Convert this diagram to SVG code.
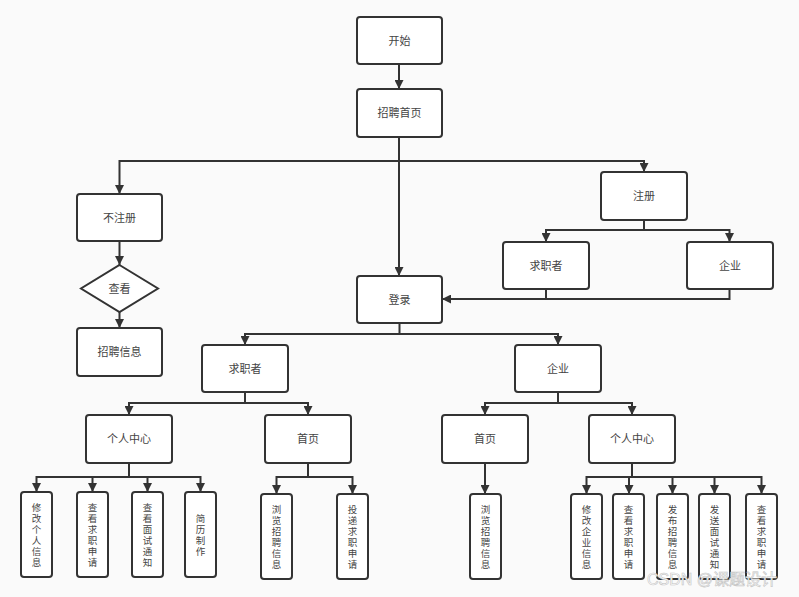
<svg xmlns="http://www.w3.org/2000/svg" width="799" height="597" viewBox="0 0 799 597">
<defs>
<marker id="arr" viewBox="0 0 10 10" refX="10" refY="5" markerWidth="9" markerHeight="9" markerUnits="userSpaceOnUse" orient="auto">
<path d="M0,0 L10,5 L0,10 z" fill="#333"/>
</marker>
<style>
.box{fill:#fff;stroke:#333;stroke-width:2}
.lbl{font-family:"Liberation Sans","Noto Sans CJK SC",sans-serif;font-size:11px;fill:#444;text-anchor:middle;dominant-baseline:central}
.v{font-family:"Liberation Sans","Noto Sans CJK SC",sans-serif;font-size:9.5px;fill:#444;text-anchor:middle;dominant-baseline:central}
.c{fill:none;stroke:#333;stroke-width:2}
.wm{font-family:"Liberation Sans","Noto Sans CJK SC",sans-serif;font-size:16px;fill:#ffffff;stroke:#c4c4c4;stroke-width:0.6}
</style>
</defs>
<rect width="799" height="597" fill="#fafafa"/>
<g id="connectors">
<path class="c" d="M399,64 V89" marker-end="url(#arr)"/>
<path class="c" d="M399,137 V161 H119.5 V194" marker-end="url(#arr)"/>
<path class="c" d="M399,161 V276" marker-end="url(#arr)"/>
<path class="c" d="M399,161 H644 V172" marker-end="url(#arr)"/>
<path class="c" d="M119.5,241 V265" marker-end="url(#arr)"/>
<path class="c" d="M119.5,312 V328" marker-end="url(#arr)"/>
<path class="c" d="M644,220 V230 H546 V242" marker-end="url(#arr)"/>
<path class="c" d="M644,230 H729.5 V242" marker-end="url(#arr)"/>
<path class="c" d="M546,289 V299"/>
<path class="c" d="M729.5,289 V299 H442" marker-end="url(#arr)"/>
<path class="c" d="M399.5,323 V334 H245 V345" marker-end="url(#arr)"/>
<path class="c" d="M399.5,334 H558 V345" marker-end="url(#arr)"/>
<path class="c" d="M245,392 V403 H129 V415" marker-end="url(#arr)"/>
<path class="c" d="M245,403 H308 V415" marker-end="url(#arr)"/>
<path class="c" d="M558,392 V403 H485 V415" marker-end="url(#arr)"/>
<path class="c" d="M558,403 H632 V415" marker-end="url(#arr)"/>
<path class="c" d="M129,463 V477 H36.5 V492" marker-end="url(#arr)"/>
<path class="c" d="M129,477 H92.5 V492" marker-end="url(#arr)"/>
<path class="c" d="M129,477 H147.5 V492" marker-end="url(#arr)"/>
<path class="c" d="M129,477 H200.5 V492" marker-end="url(#arr)"/>
<path class="c" d="M308,463 V477 H276.5 V494" marker-end="url(#arr)"/>
<path class="c" d="M308,477 H352.5 V494" marker-end="url(#arr)"/>
<path class="c" d="M485,463 V494" marker-end="url(#arr)"/>
<path class="c" d="M632,463 V477 H586.5 V494" marker-end="url(#arr)"/>
<path class="c" d="M632,477 H629 V494" marker-end="url(#arr)"/>
<path class="c" d="M632,477 H672.5 V494" marker-end="url(#arr)"/>
<path class="c" d="M632,477 H714.5 V494" marker-end="url(#arr)"/>
<path class="c" d="M632,477 H761.5 V494" marker-end="url(#arr)"/>
</g>
<g id="start"><rect class="box" x="357" y="17" width="85" height="47" rx="3"/><text class="lbl" x="399.5" y="40.5">开始</text></g>
<g id="home"><rect class="box" x="357" y="89" width="85" height="48" rx="3"/><text class="lbl" x="399.5" y="113">招聘首页</text></g>
<g id="noreg"><rect class="box" x="77" y="194" width="85" height="47" rx="3"/><text class="lbl" x="119.5" y="217.5">不注册</text></g>
<g id="view"><path class="box" d="M119.5,265 L158,288.5 L119.5,312 L81,288.5 Z"/><text class="lbl" x="119.5" y="288.5">查看</text></g>
<g id="jobinfo"><rect class="box" x="77" y="328" width="85" height="48" rx="3"/><text class="lbl" x="119.5" y="352">招聘信息</text></g>
<g id="reg"><rect class="box" x="601" y="172" width="86" height="48" rx="3"/><text class="lbl" x="644" y="196">注册</text></g>
<g id="reg_seeker"><rect class="box" x="503" y="242" width="86" height="47" rx="3"/><text class="lbl" x="546" y="265.5">求职者</text></g>
<g id="reg_company"><rect class="box" x="687" y="242" width="86" height="47" rx="3"/><text class="lbl" x="730" y="265.5">企业</text></g>
<g id="login"><rect class="box" x="357" y="276" width="85" height="47" rx="3"/><text class="lbl" x="399.5" y="299.5">登录</text></g>
<g id="seeker"><rect class="box" x="202" y="345" width="86" height="47" rx="3"/><text class="lbl" x="245" y="368.5">求职者</text></g>
<g id="company"><rect class="box" x="515" y="345" width="86" height="47" rx="3"/><text class="lbl" x="558" y="368.5">企业</text></g>
<g id="s_center"><rect class="box" x="86" y="415" width="86" height="48" rx="3"/><text class="lbl" x="129" y="439">个人中心</text></g>
<g id="s_home"><rect class="box" x="265" y="415" width="86" height="48" rx="3"/><text class="lbl" x="308" y="439">首页</text></g>
<g id="c_home"><rect class="box" x="442" y="415" width="86" height="48" rx="3"/><text class="lbl" x="485" y="439">首页</text></g>
<g id="c_center"><rect class="box" x="589" y="415" width="86" height="48" rx="3"/><text class="lbl" x="632" y="439">个人中心</text></g>
<g id="s_edit"><rect class="box" x="21" y="492" width="31" height="85" rx="3"/><text class="v"><tspan x="36.5" y="507">修</tspan><tspan x="36.5" y="518">改</tspan><tspan x="36.5" y="529">个</tspan><tspan x="36.5" y="540">人</tspan><tspan x="36.5" y="551">信</tspan><tspan x="36.5" y="562">息</tspan></text></g>
<g id="s_apply"><rect class="box" x="77" y="492" width="31" height="85" rx="3"/><text class="v"><tspan x="92.5" y="507">查</tspan><tspan x="92.5" y="518">看</tspan><tspan x="92.5" y="529">求</tspan><tspan x="92.5" y="540">职</tspan><tspan x="92.5" y="551">申</tspan><tspan x="92.5" y="562">请</tspan></text></g>
<g id="s_notice"><rect class="box" x="132" y="492" width="31" height="85" rx="3"/><text class="v"><tspan x="147.5" y="507">查</tspan><tspan x="147.5" y="518">看</tspan><tspan x="147.5" y="529">面</tspan><tspan x="147.5" y="540">试</tspan><tspan x="147.5" y="551">通</tspan><tspan x="147.5" y="562">知</tspan></text></g>
<g id="s_resume"><rect class="box" x="185" y="492" width="31" height="85" rx="3"/><text class="v"><tspan x="200.5" y="518">简</tspan><tspan x="200.5" y="529">历</tspan><tspan x="200.5" y="540">制</tspan><tspan x="200.5" y="551">作</tspan></text></g>
<g id="s_browse"><rect class="box" x="261" y="494" width="31" height="85" rx="3"/><text class="v"><tspan x="276.5" y="509">浏</tspan><tspan x="276.5" y="520">览</tspan><tspan x="276.5" y="531">招</tspan><tspan x="276.5" y="542">聘</tspan><tspan x="276.5" y="553">信</tspan><tspan x="276.5" y="564">息</tspan></text></g>
<g id="s_submit"><rect class="box" x="337" y="494" width="31" height="85" rx="3"/><text class="v"><tspan x="352.5" y="509">投</tspan><tspan x="352.5" y="520">递</tspan><tspan x="352.5" y="531">求</tspan><tspan x="352.5" y="542">职</tspan><tspan x="352.5" y="553">申</tspan><tspan x="352.5" y="564">请</tspan></text></g>
<g id="c_browse"><rect class="box" x="470" y="494" width="31" height="85" rx="3"/><text class="v"><tspan x="485.5" y="509">浏</tspan><tspan x="485.5" y="520">览</tspan><tspan x="485.5" y="531">招</tspan><tspan x="485.5" y="542">聘</tspan><tspan x="485.5" y="553">信</tspan><tspan x="485.5" y="564">息</tspan></text></g>
<g id="c_edit"><rect class="box" x="571" y="494" width="31" height="85" rx="3"/><text class="v"><tspan x="586.5" y="509">修</tspan><tspan x="586.5" y="520">改</tspan><tspan x="586.5" y="531">企</tspan><tspan x="586.5" y="542">业</tspan><tspan x="586.5" y="553">信</tspan><tspan x="586.5" y="564">息</tspan></text></g>
<g id="c_apply"><rect class="box" x="613" y="494" width="31" height="85" rx="3"/><text class="v"><tspan x="628.5" y="509">查</tspan><tspan x="628.5" y="520">看</tspan><tspan x="628.5" y="531">求</tspan><tspan x="628.5" y="542">职</tspan><tspan x="628.5" y="553">申</tspan><tspan x="628.5" y="564">请</tspan></text></g>
<g id="c_publish"><rect class="box" x="657" y="494" width="31" height="85" rx="3"/><text class="v"><tspan x="672.5" y="509">发</tspan><tspan x="672.5" y="520">布</tspan><tspan x="672.5" y="531">招</tspan><tspan x="672.5" y="542">聘</tspan><tspan x="672.5" y="553">信</tspan><tspan x="672.5" y="564">息</tspan></text></g>
<g id="c_notice"><rect class="box" x="699" y="494" width="31" height="85" rx="3"/><text class="v"><tspan x="714.5" y="509">发</tspan><tspan x="714.5" y="520">送</tspan><tspan x="714.5" y="531">面</tspan><tspan x="714.5" y="542">试</tspan><tspan x="714.5" y="553">通</tspan><tspan x="714.5" y="564">知</tspan></text></g>
<g id="c_apply2"><rect class="box" x="746" y="494" width="31" height="85" rx="3"/><text class="v"><tspan x="761.5" y="509">查</tspan><tspan x="761.5" y="520">看</tspan><tspan x="761.5" y="531">求</tspan><tspan x="761.5" y="542">职</tspan><tspan x="761.5" y="553">申</tspan><tspan x="761.5" y="564">请</tspan></text></g>
<text class="wm" x="647" y="585">CSDN @课题设计</text>
</svg>
